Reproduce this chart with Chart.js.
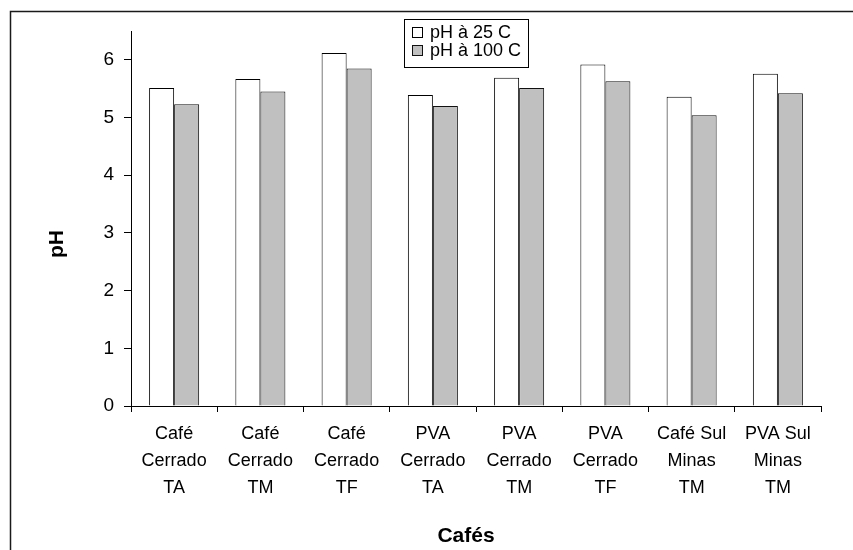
<!DOCTYPE html>
<html>
<head>
<meta charset="utf-8">
<script src="https://cdn.jsdelivr.net/npm/chart.js@4/dist/chart.umd.min.js"></script>
<style>
  html, body { margin: 0; padding: 0; background: #ffffff; }
  #wrap { width: 853px; height: 550px; position: relative; }
</style>
</head>
<body>
<div id="wrap"><canvas id="c" width="853" height="550"></canvas></div>
<script>
// Coffee samples (multi-line category labels)
const categories = [
  ["Café", "Cerrado", "TA"],
  ["Café", "Cerrado", "TM"],
  ["Café", "Cerrado", "TF"],
  ["PVA", "Cerrado", "TA"],
  ["PVA", "Cerrado", "TM"],
  ["PVA", "Cerrado", "TF"],
  ["Café Sul", "Minas", "TM"],
  ["PVA Sul", "Minas", "TM"]
];

const seriesNames = ["pH à 25 C", "pH à 100 C"];
const ph25 = [5.51, 5.67, 6.12, 5.39, 5.69, 5.92, 5.36, 5.76];
const ph100 = [5.23, 5.45, 5.85, 5.20, 5.51, 5.63, 5.04, 5.42];

const yTicks = [0, 1, 2, 3, 4, 5, 6];
const yTitle = "pH";
const xTitle = "Cafés";

const FONT = "'Liberation Sans', Arial, sans-serif";

// White page with a framing line on the left and top edges
const framePlugin = {
  id: 'frame',
  beforeDraw(chart) {
    const ctx = chart.ctx;
    ctx.save();
    ctx.fillStyle = '#ffffff';
    ctx.fillRect(0, 0, chart.width, chart.height);
    ctx.strokeStyle = '#1a1a1a';
    ctx.lineWidth = 1.5;
    ctx.beginPath();
    ctx.moveTo(10.5, chart.height + 2);
    ctx.lineTo(10.5, 11.5);
    ctx.lineTo(chart.width + 2, 11.5);
    ctx.stroke();
    ctx.restore();
  }
};

// Axis titles and boxed legend
const annotPlugin = {
  id: 'annot',
  afterDraw(chart) {
    const ctx = chart.ctx;
    ctx.save();
    ctx.fillStyle = '#000000';
    ctx.font = "bold 21px " + FONT;
    ctx.textAlign = 'center';
    ctx.textBaseline = 'alphabetic';
    ctx.fillText(xTitle, 466, 541.5);

    ctx.translate(63, 244);
    ctx.rotate(-Math.PI / 2);
    ctx.fillText(yTitle, 0, 0);
    ctx.restore();

    // legend box
    ctx.save();
    const bx = 404.5, by = 19.5, bw = 124, bh = 48;
    ctx.fillStyle = '#ffffff';
    ctx.fillRect(bx, by, bw, bh);
    ctx.strokeStyle = '#000000';
    ctx.lineWidth = 1;
    ctx.strokeRect(bx, by, bw, bh);
    ctx.font = "18px " + FONT;
    ctx.textAlign = 'left';
    ctx.textBaseline = 'middle';
    chart.data.datasets.forEach((ds, i) => {
      const cy = 33 + i * 18;
      ctx.fillStyle = ds.backgroundColor;
      ctx.fillRect(412.5, cy - 5.5, 10, 10);
      ctx.strokeStyle = ds.borderColor;
      ctx.strokeRect(412.5, cy - 5.5, 10, 10);
      ctx.fillStyle = '#000000';
      ctx.fillText(ds.label, 430, cy);
    });
    ctx.restore();
  }
};

new Chart(document.getElementById('c'), {
  type: 'bar',
  data: {
    labels: categories,
    datasets: [
      {
        label: seriesNames[0],
        data: ph25,
        backgroundColor: '#ffffff',
        borderColor: '#000000',
        borderWidth: 1,
        borderSkipped: 'bottom'
      },
      {
        label: seriesNames[1],
        data: ph100,
        backgroundColor: '#c0c0c0',
        borderColor: '#111111',
        borderWidth: 1,
        borderSkipped: 'bottom'
      }
    ]
  },
  options: {
    responsive: false,
    animation: false,
    devicePixelRatio: 1,
    layout: { padding: { left: 0, top: 31, right: 32, bottom: 0 } },
    plugins: {
      legend: { display: false },
      tooltip: { enabled: false },
      title: { display: false }
    },
    datasets: {
      bar: { barPercentage: 1.0, categoryPercentage: 0.58 }
    },
    scales: {
      x: {
        afterFit(scale) { scale.height = 144; },
        grid: {
          display: true,
          offset: true,
          drawOnChartArea: false,
          drawTicks: true,
          tickLength: 6,
          color: '#000000'
        },
        border: { display: true, color: '#000000', width: 1 },
        ticks: {
          color: '#000000',
          font: { family: FONT, size: 18, lineHeight: 1.48 },
          padding: 9,
          maxRotation: 0,
          autoSkip: false
        }
      },
      y: {
        min: 0,
        max: 6.5,
        afterFit(scale) { scale.width = 131; },
        afterBuildTicks(scale) { scale.ticks = yTicks.map(v => ({ value: v })); },
        grid: {
          display: true,
          drawOnChartArea: false,
          drawTicks: true,
          tickLength: 7,
          color: '#000000'
        },
        border: { display: true, color: '#000000', width: 1 },
        ticks: {
          color: '#000000',
          font: { family: FONT, size: 19 },
          padding: 10
        }
      }
    }
  },
  plugins: [framePlugin, annotPlugin]
});
</script>
</body>
</html>
